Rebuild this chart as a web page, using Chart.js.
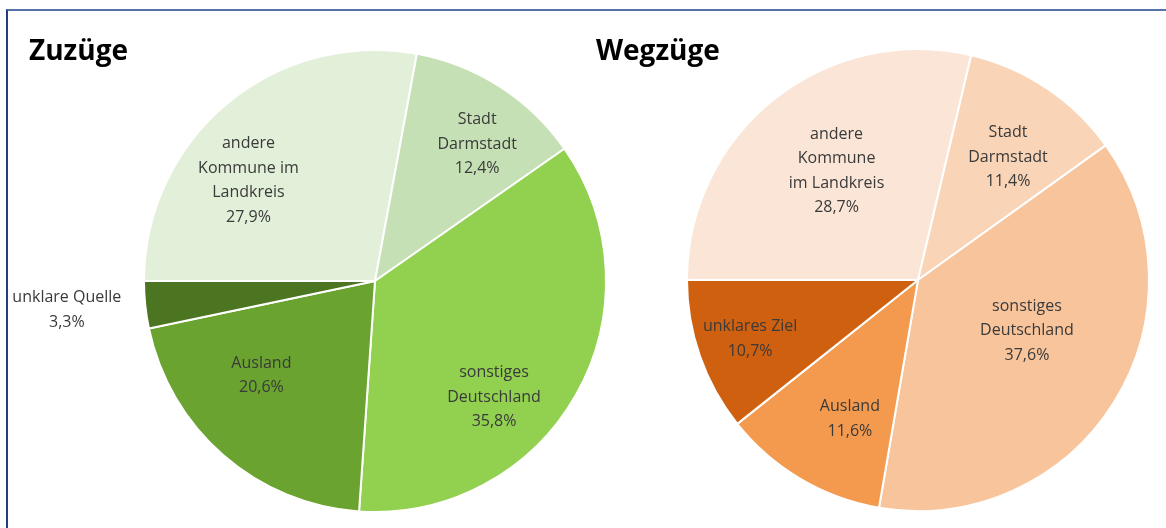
<!DOCTYPE html>
<html lang="de">
<head>
<meta charset="utf-8">
<title>Zuzüge und Wegzüge</title>
<script src="https://cdn.jsdelivr.net/npm/chart.js@4.4.0/dist/chart.umd.min.js"></script>
<style>
  html, body { margin: 0; padding: 0; background: #fff; }
  #wrap { position: relative; width: 1166px; height: 528px; overflow: hidden; }
  #frame {
    position: absolute; left: 6px; top: 9px; width: 1170px; height: 530px;
    border-left: 2px solid #1f3f7f; border-top: 2px solid #5573a6;
  }
  canvas { position: absolute; left: 0; top: 0; }
  .title {
    position: absolute; font-family: "Open Sans", sans-serif; font-weight: 700;
    font-size: 28px; color: #000; line-height: 1;
  }
</style>
</head>
<body>
<div id="wrap">
  <div id="frame"></div>
  <canvas id="zuzug" width="1166" height="528"></canvas>
  <canvas id="wegzug" width="1166" height="528"></canvas>
  <div class="title" style="left:29px; top:35px;">Zuzüge</div>
  <div class="title" style="left:596px; top:35px;">Wegzüge</div>
</div>
<script>
// Zuzüge (inflows), clockwise starting at 9 o'clock
const zuzugCategories = ['andere\nKommune im\nLandkreis', 'Stadt\nDarmstadt', 'sonstiges\nDeutschland', 'Ausland', 'unklare Quelle'];
const zuzugValues = [27.9, 12.4, 35.8, 20.6, 3.3];

// Wegzüge (outflows)
const wegzugCategories = ['andere\nKommune\nim Landkreis', 'Stadt\nDarmstadt', 'sonstiges\nDeutschland', 'Ausland', 'unklares Ziel'];
const wegzugValues = [28.7, 11.4, 37.6, 11.6, 10.7];

const zuzugColors = ['#e2efd9', '#c5e0b4', '#92d050', '#6aa32f', '#4b7520'];
const wegzugColors = ['#fbe5d6', '#f9d4b6', '#f8c49b', '#f39a4f', '#cf600f'];

// label anchors: [angle from 12 o'clock in degrees, distance as fraction of radius]
const zuzugLabelPos = [[-51.5, 0.70], [36.7, 0.74], [134.3, 0.72], [230.2, 0.64], [264.6, 1.34]];
const wegzugLabelPos = [[-36.7, 0.59], [36.2, 0.66], [114.9, 0.52], [206.1, 0.67], [250.7, 0.77]];

const fmtPct = v => v.toFixed(1).replace('.', ',') + '%';

const sliceLabels = {
  id: 'sliceLabels',
  afterDatasetsDraw(chart, args, opts) {
    const ctx = chart.ctx;
    const meta = chart.getDatasetMeta(0);
    const vals = chart.data.datasets[0].data;
    ctx.save();
    ctx.font = '16px "Open Sans", sans-serif';
    ctx.fillStyle = '#3a3a3a';
    ctx.textAlign = 'center';
    ctx.textBaseline = 'middle';
    meta.data.forEach((arc, i) => {
      const [deg, f] = opts.pos[i];
      const a = (deg - 90) * Math.PI / 180;
      const x = arc.x + Math.cos(a) * arc.outerRadius * f;
      const y = arc.y + Math.sin(a) * arc.outerRadius * f;
      const lines = chart.data.labels[i].split('\n').concat(fmtPct(vals[i]));
      const lh = 24.5;
      const y0 = y - (lines.length - 1) * lh / 2;
      lines.forEach((t, k) => ctx.fillText(t, x, y0 + k * lh));
    });
    ctx.restore();
  }
};

function makePie(id, labels, values, colors, pos, padding) {
  return new Chart(document.getElementById(id), {
    type: 'pie',
    data: {
      labels,
      datasets: [{
        data: values,
        backgroundColor: colors,
        borderColor: '#ffffff',
        borderWidth: 2
      }]
    },
    options: {
      responsive: false,
      animation: false,
      rotation: -90,
      layout: { padding },
      plugins: {
        legend: { display: false },
        tooltip: { enabled: false },
        sliceLabels: { pos }
      }
    },
    plugins: [sliceLabels]
  });
}

makePie('zuzug', zuzugCategories, zuzugValues, zuzugColors, zuzugLabelPos,
  { left: 143, right: 559, top: 49, bottom: 15 });
makePie('wegzug', wegzugCategories, wegzugValues, wegzugColors, wegzugLabelPos,
  { left: 686, right: 16, top: 48, bottom: 16 });
</script>
</body>
</html>
